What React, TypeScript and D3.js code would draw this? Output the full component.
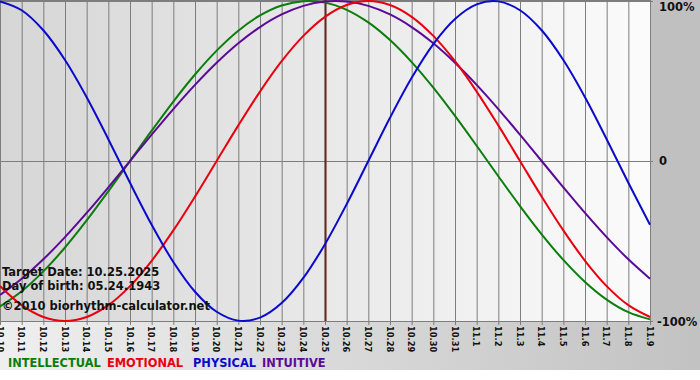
import React from "react";
import * as d3 from "d3";

const dates = ["10.10","10.11","10.12","10.13","10.14","10.15","10.16","10.17","10.18","10.19","10.20","10.21","10.22","10.23","10.24","10.25","10.26","10.27","10.28","10.29","10.30","10.31","11.1","11.2","11.3","11.4","11.5","11.6","11.7","11.8","11.9"];

const physical = [0.9977,0.9423,0.8170,0.6311,0.3984,0.1362,-0.1362,-0.3984,-0.6311,-0.8170,-0.9423,-0.9977,-0.9791,-0.8879,-0.7308,-0.5196,-0.2698,0,0.2698,0.5196,0.7308,0.8879,0.9791,0.9977,0.9423,0.8170,0.6311,0.3984,0.1362,-0.1362,-0.3984];
const emotional = [-0.7818,-0.9010,-0.9749,-1,-0.9749,-0.9010,-0.7818,-0.6235,-0.4339,-0.2225,0,0.2225,0.4339,0.6235,0.7818,0.9010,0.9749,1,0.9749,0.9010,0.7818,0.6235,0.4339,0.2225,0,-0.2225,-0.4339,-0.6235,-0.7818,-0.9010,-0.9749];
const intellectual = [-0.9096,-0.8146,-0.6901,-0.5406,-0.3717,-0.1893,0,0.1893,0.3717,0.5406,0.6901,0.8146,0.9096,0.9718,0.9989,0.9898,0.9450,0.8660,0.7557,0.6182,0.4582,0.2817,0.0951,-0.0951,-0.2817,-0.4582,-0.6182,-0.7557,-0.8660,-0.9450,-0.9898];
const intuitive = [-0.8372,-0.7357,-0.6142,-0.4759,-0.3247,-0.1646,0,0.1646,0.3247,0.4759,0.6142,0.7357,0.8372,0.9158,0.9694,0.9966,0.9966,0.9694,0.9158,0.8372,0.7357,0.6142,0.4759,0.3247,0.1646,0,-0.1646,-0.3247,-0.4759,-0.6142,-0.7357];

const yTicks = [1, 0, -1];
const yTickLabels = ["100%", "0", "-100%"];
const targetIndex = 15;
const infoLines = ["Target Date: 10.25.2025", "Day of birth: 05.24.1943", "\u00A92010 biorhythm-calculator.net"];
const legendNames = ["INTELLECTUAL", "EMOTIONAL", "PHYSICAL", "INTUITIVE"];
const legendColors = ["#0b7d0b", "#e8000f", "#0a0acc", "#5c0a96"];

export default function App() {
  const W = 700, H = 380;
  const left = 0, right = 650, top = 0, bottom = 321;
  const x = d3.scaleLinear().domain([0, dates.length - 1]).range([left, right]);
  const y = d3.scaleLinear().domain([-1, 1]).range([bottom, top + 1]);
  const line = d3.line<number>().x((_, i) => x(i)).y((v) => y(v)).curve(d3.curveCatmullRom.alpha(0.5));
  const series = [
    { data: intellectual, color: legendColors[0] },
    { data: intuitive, color: legendColors[3] },
    { data: emotional, color: legendColors[1] },
    { data: physical, color: legendColors[2] },
  ];
  const font = "Verdana, 'DejaVu Sans', sans-serif";
  const legendX = [8, 107, 193, 262];
  return (
    <div style={{ position: "absolute", left: 0, top: 0 }}>
      <svg width={W} height={H} style={{ display: "block" }}>
        <defs>
          <linearGradient id="plotbg" x1="0" x2="1" y1="0" y2="0">
            <stop offset="0" stopColor="#d6d6d6" />
            <stop offset="1" stopColor="#fbfbfb" />
          </linearGradient>
          <linearGradient id="botbg" x1="0" x2="1" y1="0" y2="0">
            <stop offset="0" stopColor="#efefef" />
            <stop offset="1" stopColor="#c2c2c2" />
          </linearGradient>
          <clipPath id="plotclip">
            <rect x={left} y={top} width={right - left + 1} height={bottom - top + 1} />
          </clipPath>
        </defs>
        <rect x={0} y={0} width={W} height={H} fill="#ffffff" />
        <rect x={0} y={bottom} width={W} height={370 - bottom} fill="url(#botbg)" />
        <rect x={right} y={0} width={W - right} height={bottom} fill="#c0c0c0" />
        <rect x={left} y={top} width={right - left} height={bottom - top} fill="url(#plotbg)" />
        {dates.map((d, i) => (
          <line key={"g" + i} x1={x(i) + 0.5} x2={x(i) + 0.5} y1={top} y2={bottom + 4} stroke="#7d7d7d" strokeWidth={1} />
        ))}
        <line x1={left} x2={right} y1={top + 0.5} y2={top + 0.5} stroke="#7d7d7d" />
        {yTicks.map((t, i) => (
          <line key={"h" + i} x1={left} x2={right + 3} y1={Math.round(y(t)) + 0.5} y2={Math.round(y(t)) + 0.5} stroke="#7d7d7d" />
        ))}
        <line x1={x(targetIndex) + 0.5} x2={x(targetIndex) + 0.5} y1={top} y2={bottom} stroke="#4e1212" strokeWidth={2} />
        <line x1={x(targetIndex) + 0.5} x2={x(targetIndex) + 0.5} y1={top} y2={bottom} stroke="#9c2020" strokeWidth={0.7} />
        <g clipPath="url(#plotclip)">
          {series.map((s, i) => (
            <path key={"s" + i} d={line(s.data) || ""} fill="none" stroke={s.color} strokeWidth={2} />
          ))}
        </g>
        {infoLines.map((t, i) => (
          <text key={"i" + i} x={2} y={[276, 290, 310][i]} fontFamily={font} fontWeight="bold" fontSize={11.5} fill="#111">{t}</text>
        ))}
        {yTicks.map((t, i) => (
          <text key={"yl" + i} x={i === 2 ? 657 : 659} y={[11, 165, 326][i]} fontFamily={font} fontWeight="bold" fontSize={11.5} fill="#111">{yTickLabels[i]}</text>
        ))}
        {dates.map((d, i) => (
          <text key={"xl" + i} transform={`translate(${x(i)},${bottom + 5}) rotate(90)`} dy="0.35em" fontFamily="'DejaVu Sans Condensed', 'DejaVu Sans', sans-serif" fontWeight="bold" fontSize={9.2} fill="#111">{d}</text>
        ))}
        {legendNames.map((n, i) => (
          <text key={"l" + i} x={legendX[i]} y={367} fontFamily={font} fontWeight="bold" fontSize={11.4} fill={legendColors[i]}>{n}</text>
        ))}
      </svg>
    </div>
  );
}
